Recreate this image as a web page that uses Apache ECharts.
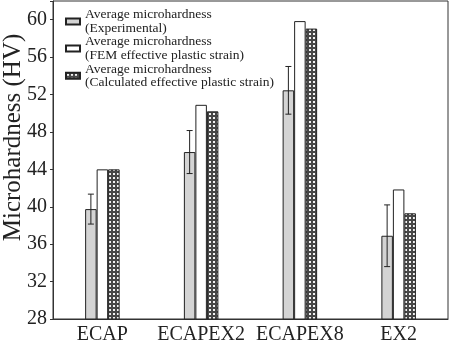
<!DOCTYPE html>
<html>
<head>
<meta charset="utf-8">
<script src="https://cdn.jsdelivr.net/npm/echarts@6/dist/echarts.min.js"></script>
<style>
  html, body { margin: 0; padding: 0; background: #fff; }
  #chart { width: 450px; height: 342px; }
</style>
</head>
<body>
<div id="chart"></div>
<script>
// Processing routes
const categories = ['ECAP', 'ECAPEX2', 'ECAPEX8', 'EX2'];
// Microhardness (HV)
const experimental = [39.75, 45.85, 52.45, 36.9];
const experimentalError = [1.6, 2.3, 2.55, 3.3];
const femStrain = [44.0, 50.9, 59.85, 41.85];
const calculatedStrain = [44.0, 50.2, 59.05, 39.3];
const seriesNames = [
  'Average microhardness\n(Experimental)',
  'Average microhardness\n(FEM effective plastic strain)',
  'Average microhardness\n(Calculated effective plastic strain)'
];
const yTicks = [28, 32, 36, 40, 44, 48, 52, 56, 60];

const FONT = '"Liberation Serif", "DejaVu Serif", serif';
const INK = '#222';
const BAR_W = 11.5;

// Dotted-grid fill for the calculated-strain bars
function gridPattern() {
  const c = document.createElement('canvas');
  c.width = 4; c.height = 4;
  const g = c.getContext('2d');
  g.fillStyle = '#474747';
  g.fillRect(0, 0, 4, 4);
  g.fillStyle = '#f2f2f2';
  g.fillRect(1, 1, 2, 2);
  return { image: c, repeat: 'repeat' };
}

const chart = echarts.init(document.getElementById('chart'), null, { renderer: 'canvas' });

const option = {
  backgroundColor: '#fff',
  animation: false,
  grid: {
    left: 53, right: 2, top: 1, bottom: 23,
    containLabel: false,
    outerBoundsMode: 'none',
    show: true, borderColor: '#333', borderWidth: 1, backgroundColor: 'transparent'
  },
  legend: {
    orient: 'vertical',
    left: 60, top: -4,
    itemWidth: 14, itemHeight: 6,
    itemGap: -13.6,
    icon: 'rect',
    selectedMode: false,
    data: seriesNames,
    textStyle: {
      fontFamily: FONT, fontSize: 13.5, lineHeight: 13.6, color: INK,
      padding: [13.6, 0, 0, 0]
    }
  },
  xAxis: {
    type: 'category',
    data: categories,
    axisLine: { lineStyle: { color: '#333', width: 1 } },
    axisTick: { show: false },
    axisLabel: { fontFamily: FONT, fontSize: 20, color: INK, margin: 6, interval: 0, hideOverlap: false }
  },
  yAxis: {
    type: 'value',
    min: yTicks[0], max: 62, interval: 4,
    name: 'Microhardness (HV)',
    nameLocation: 'middle',
    nameGap: 27,
    nameMoveOverlap: false,
    nameTextStyle: { fontFamily: FONT, fontSize: 25, color: INK, padding: [0, 0, 0, 45] },
    splitLine: { show: false },
    axisLine: { show: true, lineStyle: { color: '#333', width: 1 } },
    axisTick: { show: true, length: 3, lineStyle: { color: '#333' } },
    axisLabel: {
      fontFamily: FONT, fontSize: 20, color: INK, margin: 6,
      formatter: v => (yTicks.indexOf(v) >= 0 ? String(v) : '')
    }
  },
  series: [
    {
      name: seriesNames[0], type: 'bar', data: experimental,
      barWidth: BAR_W, barGap: '0%',
      itemStyle: { color: '#d4d4d4', borderColor: '#222', borderWidth: 1 }
    },
    {
      name: seriesNames[1], type: 'bar', data: femStrain,
      barWidth: BAR_W, barGap: '0%',
      itemStyle: { color: '#ffffff', borderColor: '#222', borderWidth: 1 }
    },
    {
      name: seriesNames[2], type: 'bar', data: calculatedStrain,
      barWidth: BAR_W, barGap: '0%',
      itemStyle: { color: gridPattern(), borderColor: '#222', borderWidth: 1 }
    },
    {
      // error bars on the experimental bars
      type: 'custom',
      z: 5,
      data: experimental.map((v, i) => [i, v - experimentalError[i], v + experimentalError[i]]),
      renderItem: function (params, api) {
        const lo = api.coord([api.value(0), api.value(1)]);
        const hi = api.coord([api.value(0), api.value(2)]);
        const x = lo[0] - BAR_W;
        const cap = 3;
        const style = { stroke: '#222', lineWidth: 1 };
        return {
          type: 'group',
          children: [
            { type: 'line', shape: { x1: x, y1: hi[1], x2: x, y2: lo[1] }, style },
            { type: 'line', shape: { x1: x - cap, y1: hi[1], x2: x + cap, y2: hi[1] }, style },
            { type: 'line', shape: { x1: x - cap, y1: lo[1], x2: x + cap, y2: lo[1] }, style }
          ]
        };
      }
    }
  ]
};

chart.setOption(option);
</script>
</body>
</html>
